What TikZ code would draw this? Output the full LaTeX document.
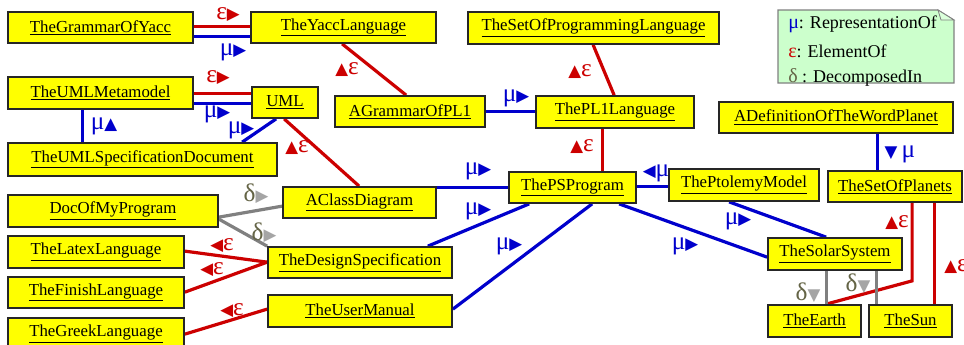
\documentclass[tikz,border=0pt]{standalone}
\usepackage{fontspec}
\setmainfont{Liberation Serif}
\newfontfamily\symf{DejaVu Sans}
\usetikzlibrary{calc,backgrounds}
\definecolor{rblue}{RGB}{0,0,204}
\definecolor{rred}{RGB}{204,0,0}
\definecolor{rgray}{RGB}{128,128,128}
\definecolor{dcol}{RGB}{100,100,70}
\definecolor{tgray}{RGB}{165,165,165}
\definecolor{lgreen}{RGB}{204,255,204}
\definecolor{byel}{RGB}{255,255,0}
\newcommand\tri[1]{{\symf\fontsize{12.5}{13}\selectfont #1}}
\newcommand\mR{\textcolor{rblue}{μ\tri{▶}}}
\newcommand\mU{\textcolor{rblue}{μ\tri{▲}}}
\newcommand\mL{\textcolor{rblue}{\tri{◀}μ}}
\newcommand\mD{\textcolor{rblue}{\tri{▼}\,μ}}
\newcommand\eR{\textcolor{rred}{ε\tri{▶}}}
\newcommand\eU{\textcolor{rred}{\tri{▲}ε}}
\newcommand\eL{\textcolor{rred}{\tri{◀}ε}}
\newcommand\dR{\textcolor{dcol}{δ}\textcolor{tgray}{\tri{▶}}}
\newcommand\dD{\textcolor{dcol}{δ}\textcolor{tgray}{\tri{▼}}}
\newcommand\bx[6]{\node[box, minimum width={(#4-#2)*0.75pt}, minimum height={(#5-#3)*0.75pt}] (#1) at ({(#2+#4)/2},{(#3+#5)/2}) {\underline{#6}};}
\tikzset{
  box/.style={draw=black!85, line width=1.3pt, fill=byel, inner sep=0pt, font=\fontsize{12.6}{14}\selectfont},
  lab/.style={inner sep=0pt, font=\fontsize{19}{20}\selectfont},
  bl/.style={draw=rblue, line width=2.4pt},
  rl/.style={draw=rred, line width=2.4pt},
  gl/.style={draw=rgray, line width=2.4pt},
  legt/.style={anchor=west, inner sep=0pt, font=\fontsize{13.5}{15}\selectfont},
}
\begin{document}
\begin{tikzpicture}[x=0.75pt,y=-0.75pt]
\useasboundingbox (0,0) rectangle (964,344);
% boxes
\bx{gy}{8}{12}{193}{43}{TheGrammarOfYacc}
\bx{yl}{251}{12}{436}{43}{TheYaccLanguage}
\bx{spl}{468}{12}{719}{44}{TheSetOfProgrammingLanguage}
\bx{umm}{8}{77}{193}{109}{TheUMLMetamodel}
\bx{uml}{252}{87}{318}{118}{UML}
\bx{usd}{8}{143}{277}{176}{TheUMLSpecificationDocument}
\bx{gpl}{335}{96}{485}{127}{AGrammarOfPL1}
\bx{pl1}{536}{96}{694}{128}{ThePL1Language}
\bx{dwp}{719}{102}{953}{133}{ADefinitionOfTheWordPlanet}
\bx{ps}{509}{172}{636}{203}{ThePSProgram}
\bx{ptm}{669}{169}{819}{201}{ThePtolemyModel}
\bx{sop}{828}{171}{962}{202}{TheSetOfPlanets}
\bx{acd}{283}{187}{436}{218}{AClassDiagram}
\bx{dmp}{8}{195}{218}{227}{DocOfMyProgram}
\bx{lat}{8}{236}{184}{268}{TheLatexLanguage}
\bx{fin}{8}{277}{184}{308}{TheFinishLanguage}
\bx{grk}{8}{318}{184}{350}{TheGreekLanguage}
\bx{dsp}{268}{247}{452}{278}{TheDesignSpecification}
\bx{um}{268}{295}{452}{327}{TheUserManual}
\bx{ss}{768}{238}{902}{270}{TheSolarSystem}
\bx{ear}{768}{305}{861}{337}{TheEarth}
\bx{sun}{869}{305}{952}{337}{TheSun}
% legend
\draw[draw=rgray, line width=0.8pt, fill=lgreen] (778,10) -- (938,10) -- (954,20) -- (954,83) -- (778,83) -- cycle;
\draw[draw=rgray, line width=0.6pt, fill=lgreen!70!white] (938,10) -- (941,20) -- (954,20) -- cycle;
\node[legt] (leg1) at (788,24) {\textcolor{rblue}{\fontsize{15}{15}\selectfont μ}: RepresentationOf};
\node[legt] (leg2) at (788,51) {\textcolor{rred}{\fontsize{15}{15}\selectfont ε}: ElementOf};
\node[legt] (leg3) at (788,77) {\textcolor{dcol}{\fontsize{15}{15}\selectfont δ} : DecomposedIn};
% connectors
\begin{scope}[on background layer]
\draw[rl] ($(gy.north east)+(0,15)$) -- ($(yl.north west)+(0,15)$);
\draw[bl] ($(gy.north east)+(0,25)$) -- ($(yl.north west)+(0,25)$);
\draw[rl] ($(umm.north east)+(0,17)$) -- ($(uml.north west)+(0,7)$);
\draw[bl] ($(umm.north east)+(0,27)$) -- ($(uml.north west)+(0,17)$);
\draw[bl] ($(umm.south west)+(75,0)$) -- ($(usd.north west)+(75,0)$);
\draw[bl] ($(uml.south west)+(25,0)$) -- ($(usd.north west)+(235,0)$);
\draw[rl] ($(uml.south west)+(33,0)$) -- ($(acd.north west)+(77,0)$);
\draw[rl] ($(yl.south west)+(92,0)$) -- ($(gpl.north west)+(72,0)$);
\draw[bl] ($(gpl.north east)+(0,16)$) -- ($(pl1.north west)+(0,16)$);
\draw[rl] ($(spl.south west)+(126,0)$) -- ($(pl1.north west)+(79,0)$);
\draw[rl] ($(pl1.south west)+(67,0)$) -- ($(ps.north west)+(94,0)$);
\draw[bl] ($(acd.north east)+(0,1)$) -- ($(ps.north west)+(0,16)$);
\draw[bl] ($(dsp.north east)+(-25,0)$) -- ($(ps.south west)+(21,0)$);
\draw[bl] ($(um.north east)+(0,15)$) -- ($(ps.south west)+(84,0)$);
\draw[bl] ($(ps.north east)+(0,15)$) -- ($(ptm.north west)+(0,18)$);
\draw[bl] ($(ptm.south west)+(61,0)$) -- ($(ss.north west)+(59,0)$);
\draw[bl] ($(ps.south west)+(111,0)$) -- ($(ss.north west)+(0,20)$);
\draw[bl] ($(dwp.south west)+(159,0)$) -- ($(sop.north west)+(50,0)$);
\coordinate (bend) at ($(sop.south west)+(85,78)$);
\draw[rl] ($(sop.south west)+(85,0)$) -- (bend) -- ($(ear.north west)+(59,0)$);
\draw[rl] ($(sop.south west)+(107,0)$) -- ($(sun.north west)+(66,0)$);
\draw[gl] ($(ss.south west)+(59,0)$) -- ($(ear.north west)+(59,0)$);
\draw[gl] ($(ss.south west)+(109,0)$) -- ($(sun.north west)+(8,0)$);
\draw[gl] ($(dmp.north east)+(0,23)$) -- ($(acd.north west)+(0,20)$);
\draw[gl] ($(dmp.north east)+(0,25)$) -- (dsp.north west);
\draw[rl] ($(lat.north east)+(0,16)$) -- ($(dsp.north west)+(0,16)$);
\draw[rl] ($(fin.north east)+(0,16)$) -- ($(dsp.north west)+(0,16)$);
\draw[rl] ($(grk.north east)+(0,17)$) -- ($(um.north west)+(0,15)$);
\end{scope}
% labels
\node[lab] (l1) at (228,15) {\eR};
\node[lab] (l2) at (233,52) {\mR};
\node[lab] (l3) at (218,78) {\eR};
\node[lab] (l4) at (217,114) {\mR};
\node[lab] (l5) at (104,126) {\mU};
\node[lab] (l6) at (241,130) {\mR};
\node[lab] (l7) at (297,148) {\eU};
\node[lab] (l8) at (347,70) {\eU};
\node[lab] (l9) at (516,98) {\mR};
\node[lab] (l10) at (580,72) {\eU};
\node[lab] (l11) at (582,147) {\eU};
\node[lab] (l12) at (478,171) {\mR};
\node[lab] (l13) at (478,211) {\mR};
\node[lab] (l14) at (509,246) {\mR};
\node[lab] (l15) at (656,173) {\mL};
\node[lab] (l16) at (738,221) {\mR};
\node[lab] (l17) at (685,246) {\mR};
\node[lab] (l18) at (900,154) {\mD};
\node[lab] (l19) at (897,223) {\eU};
\node[lab] (l20) at (956,267) {\eU};
\node[lab] (l21) at (808,293) {\dD};
\node[lab] (l22) at (858,284) {\dD};
\node[lab] (l23) at (256,194) {\dR};
\node[lab] (l24) at (264,233) {\dR};
\node[lab] (l25) at (222,246) {\eL};
\node[lab] (l26) at (212,270) {\eL};
\node[lab] (l27) at (232,311) {\eL};
\end{tikzpicture}
\end{document}
